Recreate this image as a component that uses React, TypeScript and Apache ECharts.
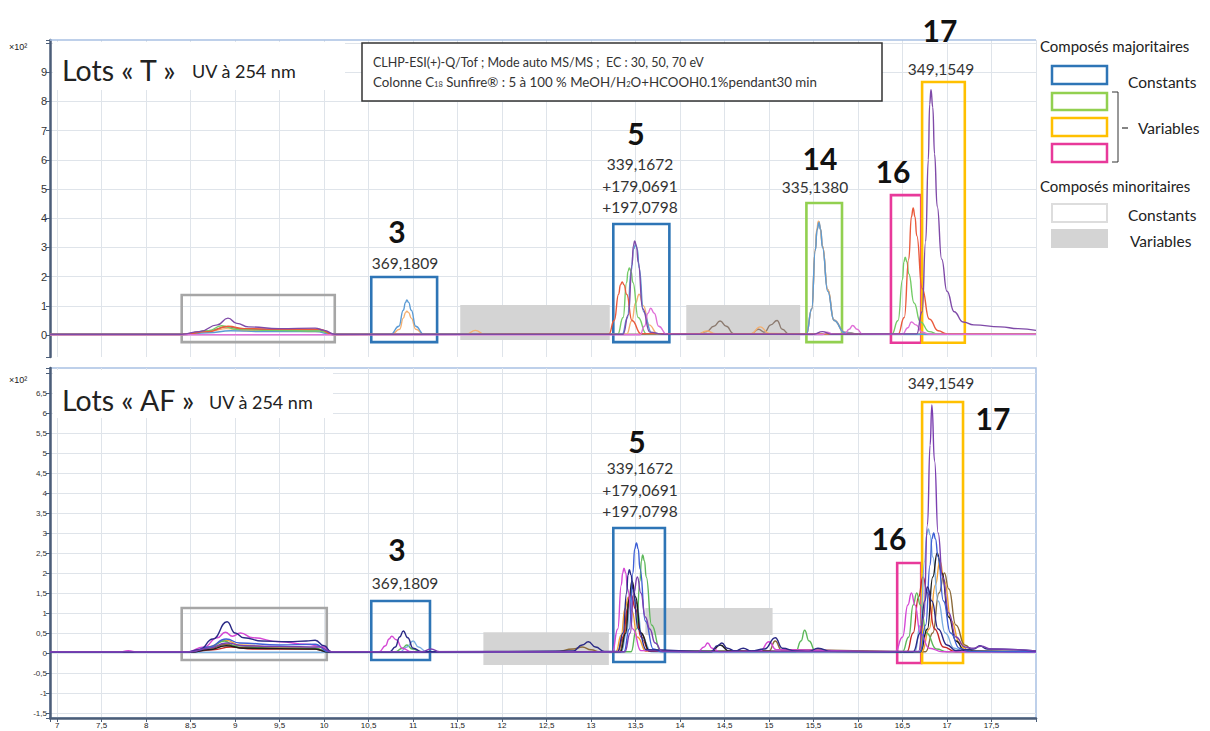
import React, { useEffect, useRef } from "react";
import * as echarts from "echarts";

type Pt = [number, number];

// ---------- axes ----------
const X_MIN = 6.92;
const X_MAX = 18;
const X_LAST_LABEL = 17.5;
const T_Y_MIN = -0.75;
const T_Y_MAX = 10.1;
const T_Y_LAST_LABEL = 9;
const AF_Y_MIN = -1.625;
const AF_Y_MAX = 7.125;
const AF_Y_FIRST_LABEL = -1.5;
const AF_Y_LAST_LABEL = 6.5;

// ---------- Lots « T » traces (x: min, y: x10^2) ----------
const tBlue: Pt[] = [[6.92,0.02],[8.4,0.02],[8.7,0.08],[8.95,0.15],[9.3,0.12],[9.9,0.12],[10.1,0.02],[10.75,0.03],[10.84,0.3],[10.89,0.85],[10.915,1.12],[10.93,1.2],[10.95,1.12],[10.98,0.85],[11.03,0.3],[11.12,0.03],[13.35,0.03],[13.41,0.6],[13.45,2.2],[13.48,2.95],[13.5,3.1],[13.52,2.95],[13.54,2.3],[13.59,0.8],[13.68,0.08],[13.8,0.03],[15.42,0.03],[15.48,0.9],[15.52,2.9],[15.54,3.6],[15.56,3.85],[15.58,3.6],[15.6,3.0],[15.66,1.5],[15.73,0.5],[15.85,0.08],[16,0.03],[18,0.03]];
const tOrange: Pt[] = [[6.92,0.02],[8.45,0.02],[8.75,0.15],[8.9,0.22],[9.1,0.15],[9.5,0.14],[9.95,0.12],[10.1,0.02],[10.76,0.03],[10.85,0.2],[10.89,0.58],[10.915,0.77],[10.93,0.82],[10.95,0.77],[10.98,0.58],[11.03,0.2],[11.12,0.03],[11.6,0.03],[11.7,0.16],[11.8,0.03],[13.4,0.03],[13.46,0.5],[13.5,1.1],[13.54,1.4],[13.59,1.0],[13.65,0.35],[13.75,0.04],[14.2,0.03],[14.3,0.14],[14.4,0.05],[14.8,0.05],[14.9,0.28],[15.0,0.06],[15.42,0.03],[15.48,0.9],[15.52,2.95],[15.535,3.6],[15.555,3.9],[15.575,3.65],[15.6,3.05],[15.66,1.55],[15.73,0.5],[15.85,0.08],[16,0.03],[18,0.04]];
const tRed: Pt[] = [[6.92,0.02],[8.4,0.02],[8.7,0.12],[8.92,0.3],[9.1,0.22],[9.5,0.2],[9.95,0.2],[10.1,0.02],[13.2,0.03],[13.26,0.5],[13.31,1.4],[13.33,1.72],[13.35,1.82],[13.37,1.72],[13.4,1.4],[13.46,0.5],[13.56,0.05],[16.45,0.03],[16.52,0.6],[16.57,2.6],[16.6,4.05],[16.62,4.35],[16.64,4.05],[16.66,3.4],[16.72,1.6],[16.8,0.55],[16.9,0.15],[17.0,0.04],[18,0.03]];
const tGreen: Pt[] = [[6.92,0.02],[8.45,0.02],[8.7,0.15],[8.85,0.32],[9.0,0.2],[9.4,0.16],[9.95,0.14],[10.1,0.02],[13.3,0.03],[13.36,0.6],[13.4,1.8],[13.415,2.18],[13.43,2.3],[13.45,2.18],[13.47,1.8],[13.53,0.6],[13.62,0.05],[16.38,0.03],[16.45,0.5],[16.5,1.9],[16.515,2.5],[16.53,2.67],[16.55,2.5],[16.57,2.1],[16.63,1.1],[16.7,0.45],[16.8,0.12],[16.9,0.03],[18,0.03]];
const tPurple: Pt[] = [[6.92,0.03],[8.4,0.03],[8.6,0.12],[8.8,0.35],[8.92,0.58],[9.02,0.4],[9.15,0.28],[9.5,0.22],[9.9,0.24],[10.0,0.16],[10.12,0.03],[13.36,0.03],[13.42,0.7],[13.46,2.4],[13.475,3.05],[13.49,3.22],[13.51,3.05],[13.53,2.5],[13.58,0.9],[13.66,0.1],[13.8,0.03],[15.5,0.03],[15.6,0.12],[15.7,0.03],[16.66,0.04],[16.72,0.8],[16.76,3.2],[16.79,6.0],[16.805,7.9],[16.82,8.4],[16.84,7.8],[16.86,6.2],[16.89,4.4],[16.94,2.6],[17.0,1.5],[17.08,0.8],[17.18,0.45],[17.3,0.35],[17.6,0.28],[17.8,0.22],[18,0.16]];
const tMagenta: Pt[] = [[6.92,0.01],[13.55,0.01],[13.6,0.3],[13.64,0.75],[13.67,0.92],[13.71,0.75],[13.76,0.3],[13.85,0.03],[15.6,0.02],[15.65,0.1],[15.72,0.03],[15.85,0.03],[15.9,0.2],[15.94,0.33],[15.99,0.2],[16.05,0.03],[16.5,0.03],[16.56,0.25],[16.6,0.45],[16.65,0.35],[16.72,0.1],[16.8,0.03],[18,0.03]];
const tGray: Pt[] = [[6.92,0.03],[8.4,0.03],[8.7,0.15],[8.9,0.28],[9.1,0.2],[9.5,0.18],[9.95,0.17],[10.1,0.03],[14.2,0.03],[14.3,0.12],[14.38,0.3],[14.45,0.48],[14.52,0.3],[14.6,0.05],[14.8,0.04],[14.88,0.2],[14.95,0.1],[15.02,0.35],[15.09,0.5],[15.15,0.2],[15.22,0.04],[15.42,0.03],[15.48,0.88],[15.52,2.9],[15.54,3.62],[15.56,3.88],[15.58,3.62],[15.6,3.05],[15.66,1.55],[15.73,0.52],[15.85,0.1],[16,0.04],[18,0.05]];

// ---------- Lots « AF » traces ----------
const aNavy: Pt[] = [[6.92,0.03],[8.45,0.03],[8.6,0.08],[8.75,0.35],[8.91,0.78],[9.0,0.5],[9.1,0.38],[9.3,0.3],[9.6,0.28],[9.8,0.3],[9.9,0.32],[10.0,0.18],[10.08,0.03],[10.74,0.03],[10.8,0.15],[10.85,0.4],[10.89,0.55],[10.94,0.38],[11.0,0.12],[11.1,0.03],[12.8,0.05],[12.9,0.2],[12.97,0.28],[13.05,0.15],[13.15,0.04],[13.3,0.04],[13.36,0.5],[13.4,1.5],[13.415,1.95],[13.43,2.08],[13.45,1.95],[13.47,1.6],[13.53,0.6],[13.62,0.08],[14.35,0.04],[14.42,0.18],[14.47,0.25],[14.53,0.12],[14.62,0.05],[14.71,0.12],[14.8,0.05],[14.95,0.1],[15.07,0.38],[15.15,0.12],[15.3,0.05],[15.45,0.04],[15.55,0.12],[15.7,0.04],[16.62,0.03],[16.7,0.5],[16.75,1.3],[16.78,1.65],[16.83,1.3],[16.9,0.6],[17.0,0.2],[17.1,0.06],[17.3,0.1],[17.37,0.18],[17.45,0.1],[18,0.05]];
const aMagenta: Pt[] = [[6.92,0.02],[7.7,0.02],[7.8,0.06],[7.9,0.02],[8.45,0.02],[8.65,0.15],[8.8,0.38],[8.89,0.52],[8.97,0.42],[9.06,0.5],[9.2,0.38],[9.5,0.28],[9.8,0.22],[10.0,0.15],[10.08,0.03],[10.62,0.03],[10.69,0.18],[10.73,0.35],[10.76,0.42],[10.81,0.33],[10.88,0.12],[10.98,0.03],[13.24,0.03],[13.3,0.6],[13.34,1.7],[13.355,2.0],[13.37,2.12],[13.39,2.0],[13.41,1.6],[13.47,0.6],[13.56,0.06],[14.2,0.03],[14.27,0.15],[14.31,0.25],[14.36,0.12],[14.45,0.03],[14.9,0.05],[15.0,0.28],[15.08,0.08],[16.42,0.03],[16.5,0.4],[16.56,1.2],[16.6,1.5],[16.64,1.2],[16.7,0.5],[16.8,0.12],[16.95,0.03],[18,0.02]];
const aGreen: Pt[] = [[6.92,0.02],[8.5,0.02],[8.7,0.12],[8.88,0.3],[9.0,0.18],[9.4,0.12],[9.9,0.12],[10.05,0.02],[10.8,0.03],[10.88,0.12],[10.93,0.2],[10.99,0.1],[11.1,0.03],[13.45,0.03],[13.51,0.6],[13.55,1.8],[13.565,2.3],[13.58,2.45],[13.6,2.3],[13.62,1.9],[13.68,0.7],[13.78,0.06],[15.3,0.03],[15.36,0.3],[15.4,0.57],[15.45,0.3],[15.52,0.05],[16.5,0.03],[16.57,0.4],[16.62,1.2],[16.66,1.5],[16.7,1.2],[16.77,0.5],[16.88,0.1],[17.0,0.03],[18,0.03]];
const aBlue: Pt[] = [[6.92,0.03],[8.5,0.03],[8.7,0.15],[8.9,0.35],[9.05,0.25],[9.5,0.2],[9.9,0.22],[10.05,0.03],[13.37,0.03],[13.43,0.6],[13.47,2.0],[13.49,2.6],[13.51,2.75],[13.53,2.6],[13.55,2.1],[13.61,0.8],[13.7,0.1],[13.8,0.03],[16.7,0.03],[16.76,0.7],[16.81,2.2],[16.83,2.85],[16.85,3.0],[16.87,2.85],[16.9,2.4],[16.96,1.3],[17.04,0.5],[17.14,0.12],[17.25,0.04],[18,0.03]];
const aLightBlue: Pt[] = [[6.92,0.02],[10.85,0.02],[10.93,0.15],[11.0,0.3],[11.06,0.15],[11.15,0.03],[13.34,0.03],[13.4,0.5],[13.44,1.3],[13.47,1.6],[13.51,1.2],[13.58,0.35],[13.68,0.03],[16.64,0.03],[16.7,0.7],[16.75,2.3],[16.77,2.95],[16.79,3.1],[16.81,2.95],[16.84,2.4],[16.9,1.3],[16.98,0.5],[17.08,0.12],[17.2,0.03],[18,0.03]];
const aPurple: Pt[] = [[6.92,0.03],[8.5,0.03],[8.7,0.12],[8.9,0.25],[9.1,0.18],[9.5,0.16],[9.95,0.15],[10.08,0.03],[11.1,0.03],[11.2,0.1],[11.3,0.03],[13.38,0.03],[13.44,0.5],[13.48,1.5],[13.52,1.9],[13.56,1.5],[13.61,0.9],[13.66,0.6],[13.72,0.25],[13.8,0.04],[16.68,0.04],[16.74,0.9],[16.78,3.2],[16.81,5.2],[16.83,6.2],[16.86,4.8],[16.9,3.0],[16.95,1.9],[17.02,1.0],[17.1,0.4],[17.2,0.15],[17.3,0.12],[17.38,0.17],[17.5,0.1],[18,0.05]];
const aRed: Pt[] = [[6.92,0.02],[8.5,0.02],[8.75,0.08],[8.95,0.15],[9.2,0.1],[9.9,0.1],[10.05,0.02],[13.3,0.03],[13.36,0.4],[13.41,1.1],[13.45,1.45],[13.5,1.1],[13.56,0.4],[13.66,0.04],[16.55,0.03],[16.62,0.5],[16.68,1.4],[16.73,1.9],[16.78,1.5],[16.86,0.6],[16.96,0.15],[17.1,0.03],[18,0.02]];
const aOrange: Pt[] = [[6.92,0.02],[8.5,0.02],[8.7,0.15],[8.9,0.32],[9.05,0.2],[9.5,0.14],[9.9,0.12],[10.05,0.02],[13.28,0.03],[13.34,0.45],[13.38,1.1],[13.42,1.4],[13.46,1.05],[13.52,0.4],[13.62,0.04],[16.72,0.03],[16.8,0.6],[16.87,1.7],[16.92,2.3],[16.97,1.8],[17.05,0.8],[17.14,0.25],[17.25,0.04],[18,0.03]];
const aBrown: Pt[] = [[6.92,0.02],[8.5,0.02],[8.7,0.1],[8.9,0.22],[9.05,0.14],[9.9,0.1],[10.05,0.02],[12.6,0.03],[12.8,0.1],[12.9,0.15],[13.0,0.08],[13.1,0.03],[13.32,0.03],[13.38,0.5],[13.42,1.3],[13.46,1.6],[13.5,1.3],[13.56,0.5],[13.66,0.05],[15.0,0.05],[15.07,0.3],[15.14,0.08],[16.76,0.03],[16.84,0.5],[16.91,1.5],[16.97,2.0],[17.02,1.6],[17.1,0.7],[17.2,0.2],[17.3,0.04],[18,0.03]];
const aBlack: Pt[] = [[6.92,0.02],[8.5,0.02],[8.7,0.08],[8.9,0.18],[9.1,0.12],[9.9,0.1],[10.05,0.02],[13.33,0.03],[13.39,0.5],[13.43,1.4],[13.46,1.8],[13.5,1.4],[13.56,0.5],[13.66,0.04],[14.35,0.03],[14.45,0.2],[14.55,0.05],[16.7,0.03],[16.78,0.6],[16.84,1.9],[16.89,2.5],[16.94,2.0],[17.02,0.9],[17.1,0.3],[17.2,0.05],[18,0.03]];

// ---------- annotation boxes (data space: [x0, x1, y0, y1]) ----------
const tOutlineBoxes: { kind: string; box: number[] }[] = [
  { kind: "minorConst", box: [8.4, 10.12, -0.24, 1.37] },
  { kind: "majConst", box: [10.53, 11.27, -0.24, 1.99] },
  { kind: "majConst", box: [13.25, 13.88, -0.24, 3.8] },
  { kind: "varGreen", box: [15.42, 15.82, -0.24, 4.52] },
  { kind: "varMagenta", box: [16.37, 16.71, -0.26, 4.79] },
  { kind: "varYellow", box: [16.72, 17.2, -0.26, 8.66] },
];
const tFilledBoxes: number[][] = [
  [11.53, 13.21, -0.17, 1.03],
  [14.07, 15.35, -0.17, 1.03],
];
const afOutlineBoxes: { kind: string; box: number[] }[] = [
  { kind: "minorConst", box: [8.4, 10.03, -0.175, 1.125] },
  { kind: "majConst", box: [10.53, 11.19, -0.175, 1.3] },
  { kind: "majConst", box: [13.25, 13.83, -0.225, 3.125] },
  { kind: "varMagenta", box: [16.44, 16.71, -0.25, 2.25] },
  { kind: "varYellow", box: [16.72, 17.18, -0.25, 6.275] },
];
const afFilledBoxes: number[][] = [
  [11.79, 13.2, -0.3, 0.52],
  [13.61, 15.04, 0.45, 1.125],
];

// ---------- styles ----------
const BOX_COLORS: Record<string, string> = {
  majConst: "#2e75b6",
  varGreen: "#92d050",
  varYellow: "#ffc000",
  varMagenta: "#e8399a",
  minorConst: "#a6a6a6",
};
const FILL_GRAY = "#d4d4d4";
const GRID_COLOR = "#dfe4ea";
const AXIS_COLOR = "#4b5d78";
const FONT = "Lato";

const T_SERIES: { data: Pt[]; color: string }[] = [
  { data: tGray, color: "#8c7b70" },
  { data: tOrange, color: "#f5b070" },
  { data: tBlue, color: "#5b9bd5" },
  { data: tGreen, color: "#74cc66" },
  { data: tRed, color: "#ea5a3c" },
  { data: tMagenta, color: "#e070d8" },
  { data: tPurple, color: "#7f4aa8" },
];
const AF_SERIES: { data: Pt[]; color: string }[] = [
  { data: aBrown, color: "#8a6a3a" },
  { data: aOrange, color: "#f0a035" },
  { data: aRed, color: "#c62828" },
  { data: aGreen, color: "#5db85a" },
  { data: aLightBlue, color: "#7db0e0" },
  { data: aBlack, color: "#1e1e1e" },
  { data: aMagenta, color: "#d548d5" },
  { data: aBlue, color: "#3d5fd6" },
  { data: aNavy, color: "#2b2a86" },
  { data: aPurple, color: "#7b3fb0" },
];

const isStep = (v: number, step: number) => Math.abs(v / step - Math.round(v / step)) < 1e-6;
const fmtNum = (v: number) => String(Number(v.toFixed(2))).replace(".", ",");

function txt(x: number, y: number, text: string, size: number, extra: any = {}) {
  const align = extra.align || "center";
  return {
    type: "text",
    x,
    y,
    z: 100,
    style: {
      text,
      fontSize: size,
      fontFamily: extra.family || FONT,
      fontWeight: extra.weight || "normal",
      fill: extra.fill || "#222",
      align,
      textAlign: align,
      verticalAlign: "middle",
      textVerticalAlign: "middle",
      rich: extra.rich,
    },
  };
}
function rect(x: number, y: number, w: number, h: number, stroke: string | null, fill: string, lw = 2.5) {
  return {
    type: "rect",
    z: 90,
    shape: { x, y, width: w, height: h },
    style: { fill, stroke: stroke || undefined, lineWidth: stroke ? lw : 0 },
  };
}

function outlineArea(boxes: { kind: string; box: number[] }[]) {
  return boxes.map((b) => [
    {
      xAxis: b.box[0],
      yAxis: b.box[2],
      itemStyle: { color: "rgba(0,0,0,0)", borderColor: BOX_COLORS[b.kind], borderWidth: 2.6 },
    },
    { xAxis: b.box[1], yAxis: b.box[3] },
  ]);
}
function filledArea(boxes: number[][]) {
  return boxes.map((b) => [
    { xAxis: b[0], yAxis: b[2], itemStyle: { color: FILL_GRAY, opacity: 1 } },
    { xAxis: b[1], yAxis: b[3] },
  ]);
}

export default function App() {
  const ref = useRef<HTMLDivElement>(null);
  useEffect(() => {
    if (!ref.current) return;
    const chart = echarts.init(ref.current, null, { renderer: "svg" });

    const lineSeries = (d: { data: Pt[]; color: string }, idx: number) => ({
      type: "line",
      xAxisIndex: idx,
      yAxisIndex: idx,
      data: d.data,
      showSymbol: false,
      symbol: "none",
      smooth: 0.5,
      smoothMonotone: "x",
      silent: true,
      z: 3,
      lineStyle: { color: d.color, width: 1.4 },
      itemStyle: { color: d.color },
    });
    const helper = (idx: number, z: number, areas: any[]) => ({
      type: "line",
      xAxisIndex: idx,
      yAxisIndex: idx,
      data: [[7, 0]],
      symbol: "none",
      silent: true,
      z,
      lineStyle: { opacity: 0 },
      markArea: { silent: true, label: { show: false }, data: areas },
    });

    const yAxisCommon = {
      type: "value",
      axisLine: { show: true, onZero: false, lineStyle: { color: AXIS_COLOR, width: 2.5 } },
      axisTick: { show: true, length: 4, lineStyle: { color: AXIS_COLOR, width: 1 } },
      splitLine: { show: true, showMinLine: false, showMaxLine: false, lineStyle: { color: GRID_COLOR, width: 1 } },
    };

    const graphic: any[] = [
      // top panel frame line
      { type: "line", z: 5, shape: { x1: 50, y1: 40, x2: 1036, y2: 40 }, style: { stroke: "#a9c1e3", lineWidth: 1.5 } },
      // title cover boxes
      rect(53, 42, 292, 48, null, "#ffffff"),
      rect(53, 370, 280, 48, null, "#ffffff"),
      txt(62, 70, "Lots « T »", 28.5, { align: "left" }),
      txt(192, 71, "UV à 254 nm", 18, { align: "left" }),
      txt(62, 400, "Lots « AF »", 28.5, { align: "left" }),
      txt(209, 402, "UV à 254 nm", 18, { align: "left" }),
      txt(9, 47, "×10²", 9, { align: "left", family: "Liberation Sans" }),
      txt(9, 380, "×10²", 9, { align: "left", family: "Liberation Sans" }),
      // info box
      rect(362, 43, 520, 58, "#333333", "#ffffff", 1.5),
      txt(373, 62, "CLHP-ESI(+)-Q/Tof ; Mode auto MS/MS ;  EC : 30, 50, 70 eV", 12.5, { align: "left", fill: "#333" }),
      txt(373, 82, "Colonne C{sub|18} Sunfire® : 5 à 100 % MeOH/H{sub|2}O+HCOOH0.1%pendant30 min", 13.3, {
        align: "left",
        fill: "#333",
        rich: { sub: { fontSize: 7.5, fontFamily: FONT, verticalAlign: "bottom", fill: "#333" } },
      }),
      // legend
      txt(1040, 46, "Composés majoritaires", 15, { align: "left" }),
      rect(1052, 66, 55, 18, BOX_COLORS.majConst, "#ffffff"),
      txt(1128, 82, "Constants", 15.5, { align: "left" }),
      rect(1052, 93, 55, 17, BOX_COLORS.varGreen, "#ffffff"),
      rect(1052, 118, 55, 18, BOX_COLORS.varYellow, "#ffffff"),
      rect(1052, 144, 55, 18, BOX_COLORS.varMagenta, "#ffffff"),
      { type: "polyline", z: 95, shape: { points: [[1112, 92], [1118, 92], [1118, 162], [1112, 162]] }, style: { stroke: "#333", lineWidth: 1, fill: "none" } },
      { type: "line", z: 95, shape: { x1: 1122, y1: 128, x2: 1128, y2: 128 }, style: { stroke: "#333", lineWidth: 1.2 } },
      txt(1138, 128, "Variables", 15.5, { align: "left" }),
      txt(1040, 186, "Composés minoritaires", 15, { align: "left" }),
      rect(1052, 204, 55, 18, "#dddddd", "#ffffff", 2),
      txt(1128, 215, "Constants", 15.5, { align: "left" }),
      rect(1051, 229, 57, 19, null, FILL_GRAY),
      txt(1130, 241, "Variables", 15.5, { align: "left" }),
      // peak labels - T
      txt(397, 231, "3", 30, { weight: "bold", fill: "#111" }),
      txt(405, 263, "369,1809", 15.5, { fill: "#333" }),
      txt(636, 133, "5", 30, { weight: "bold", fill: "#111" }),
      txt(640, 164, "339,1672", 15.5, { fill: "#333" }),
      txt(640, 186, "+179,0691", 15.5, { fill: "#333" }),
      txt(640, 207, "+197,0798", 15.5, { fill: "#333" }),
      txt(820, 158, "14", 30, { weight: "bold", fill: "#111" }),
      txt(815, 187, "335,1380", 15.5, { fill: "#333" }),
      txt(893, 171, "16", 30, { weight: "bold", fill: "#111" }),
      txt(940, 30, "17", 30, { weight: "bold", fill: "#111" }),
      txt(941, 69, "349,1549", 15.5, { fill: "#333" }),
      // peak labels - AF
      txt(637, 441, "5", 30, { weight: "bold", fill: "#111" }),
      txt(640, 468, "339,1672", 15.5, { fill: "#333" }),
      txt(640, 490, "+179,0691", 15.5, { fill: "#333" }),
      txt(640, 511, "+197,0798", 15.5, { fill: "#333" }),
      txt(397, 549, "3", 30, { weight: "bold", fill: "#111" }),
      txt(405, 583, "369,1809", 15.5, { fill: "#333" }),
      txt(889, 538, "16", 30, { weight: "bold", fill: "#111" }),
      txt(993, 418, "17", 30, { weight: "bold", fill: "#111" }),
      txt(941, 383, "349,1549", 15.5, { fill: "#333" }),
    ];

    chart.setOption({
      animation: false,
      backgroundColor: "#ffffff",
      grid: [
        { left: 50, right: 174, top: 40, height: 317, show: false },
        { left: 50, right: 174, top: 368, height: 350, show: true, borderColor: "#a9c1e3", borderWidth: 1.5, backgroundColor: "rgba(0,0,0,0)" },
      ],
      xAxis: [
        {
          type: "value",
          gridIndex: 0,
          min: X_MIN,
          max: X_MAX,
          minInterval: 0.5,
          maxInterval: 0.5,
          axisLine: { show: false, onZero: false },
          axisTick: { show: false },
          axisLabel: { show: false },
          splitLine: { show: true, showMinLine: false, lineStyle: { color: GRID_COLOR, width: 1 } },
        },
        {
          type: "value",
          gridIndex: 1,
          min: X_MIN,
          max: X_MAX,
          minInterval: 0.5,
          maxInterval: 0.5,
          axisLine: { show: true, onZero: false, lineStyle: { color: AXIS_COLOR, width: 2.5 } },
          axisTick: { show: true, length: 4, lineStyle: { color: AXIS_COLOR } },
          axisLabel: {
            fontSize: 8,
            color: "#222",
            margin: 3,
            fontFamily: "Liberation Sans",
            formatter: (v: number) => (v >= 7 - 1e-6 && v <= X_LAST_LABEL + 1e-6 && isStep(v, 0.5) ? fmtNum(v) : ""),
          },
          splitLine: { show: true, showMinLine: false, showMaxLine: false, lineStyle: { color: GRID_COLOR, width: 1 } },
        },
      ],
      yAxis: [
        {
          ...yAxisCommon,
          gridIndex: 0,
          min: T_Y_MIN,
          max: T_Y_MAX,
          minInterval: 1,
          maxInterval: 1,
          axisLabel: {
            fontSize: 11,
            color: "#333",
            margin: 3,
            fontFamily: "Liberation Sans",
            formatter: (v: number) => (v >= -1e-6 && v <= T_Y_LAST_LABEL + 1e-6 && isStep(v, 1) ? String(Math.round(v)) : ""),
          },
        },
        {
          ...yAxisCommon,
          gridIndex: 1,
          min: AF_Y_MIN,
          max: AF_Y_MAX,
          minInterval: 0.5,
          maxInterval: 0.5,
          axisLabel: {
            fontSize: 8,
            color: "#333",
            margin: 3,
            fontFamily: "Liberation Sans",
            formatter: (v: number) =>
              v >= AF_Y_FIRST_LABEL - 1e-6 && v <= AF_Y_LAST_LABEL + 1e-6 && isStep(v, 0.5) ? fmtNum(v) : "",
          },
        },
      ],
      series: [
        helper(0, 1, filledArea(tFilledBoxes)),
        helper(1, 1, filledArea(afFilledBoxes)),
        ...T_SERIES.map((d) => lineSeries(d, 0)),
        ...AF_SERIES.map((d) => lineSeries(d, 1)),
        helper(0, 6, outlineArea(tOutlineBoxes)),
        helper(1, 6, outlineArea(afOutlineBoxes)),
      ],
      graphic: { elements: graphic },
    });

    return () => chart.dispose();
  }, []);

  return (
    <div
      ref={ref}
      style={{ position: "fixed", left: 0, top: 0, width: 1210, height: 731, background: "#fff" }}
    />
  );
}
